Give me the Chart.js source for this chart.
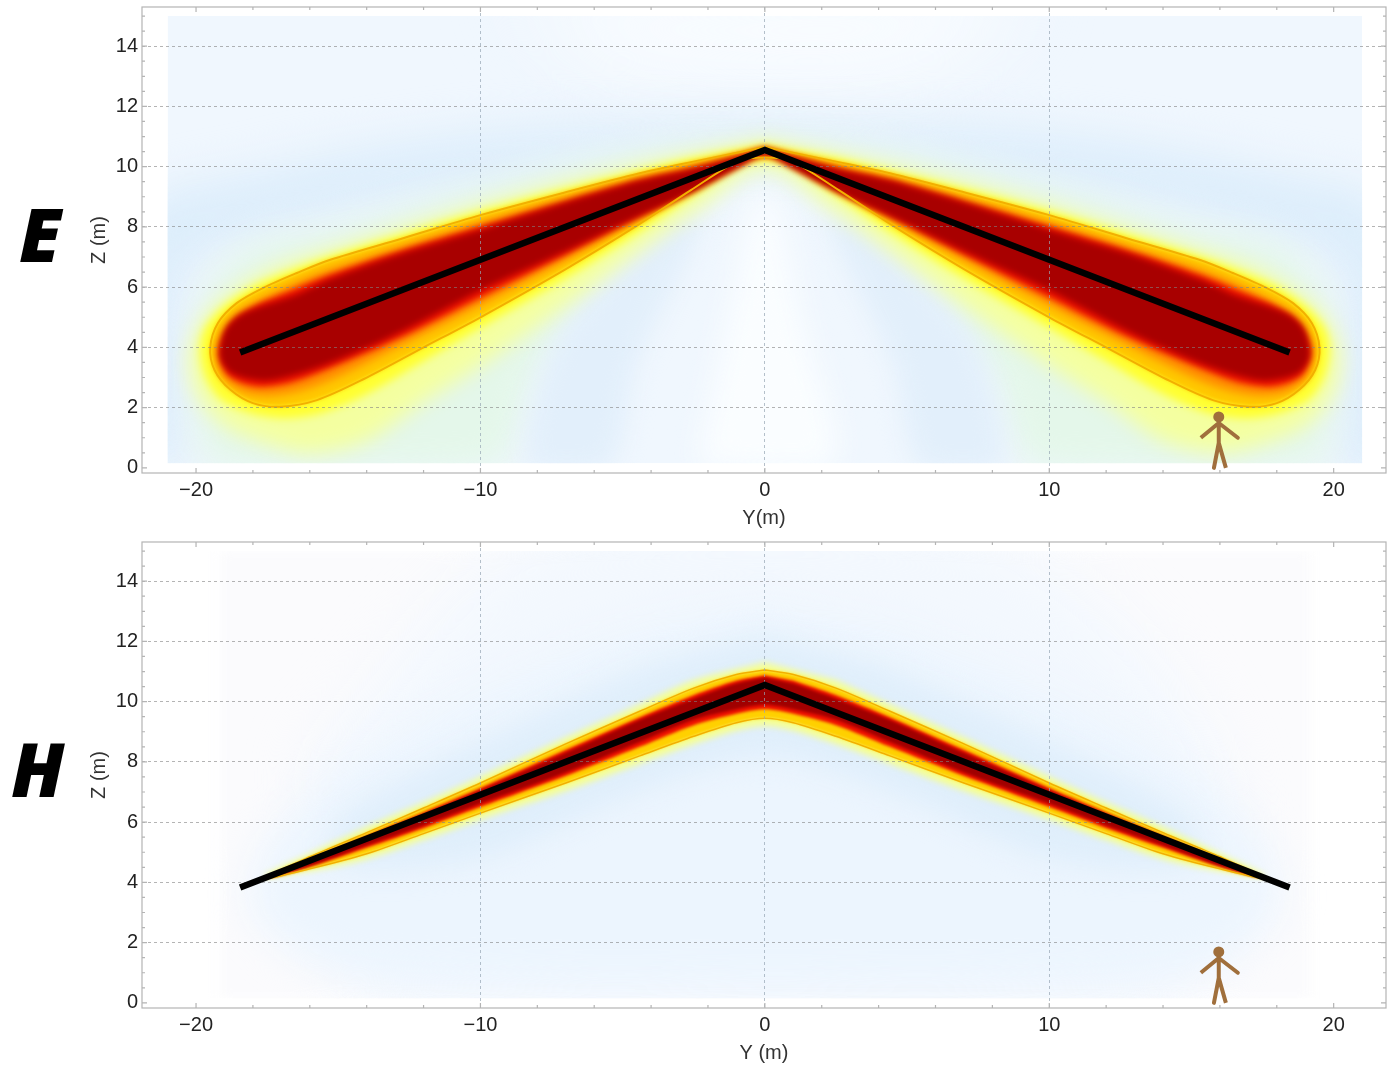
<!DOCTYPE html>
<html>
<head>
<meta charset="utf-8">
<script src="https://cdn.jsdelivr.net/npm/chart.js@4"></script>
<style>
  html, body { margin: 0; padding: 0; background: #fff; overflow: hidden; }
  canvas { position: absolute; left: 0; }
  #chartE { top: 0; }
  #chartH { top: 535px; }
  .tag { position: absolute; font: italic 800 75px "Open Sans", sans-serif; color: #000; line-height: 75px; }
</style>
</head>
<body>
<canvas id="chartE" width="1398" height="533"></canvas>
<canvas id="chartH" width="1398" height="533"></canvas>
<div class="tag" style="left:19px;top:196px">E</div>
<div class="tag" style="left:11px;top:731px">H</div>
<script>
// wire and the little man, same in both panels
const wire = [[-18.45,3.83],[0,10.55],[18.45,3.83]];
const man = [[15.33,1],[15.96,1.49],[16.63,1],[15.96,1.49],[15.96,.83],[15.79,0],[15.96,.83],[16.21,0]];
const manHead = [[15.96,1.69]];

// E panel, outlines
const eRect = [[-21,.15],[21,.15],[21,15],[-21,15]];
const eTopPale = [[-9,16],[9,16],[5,13],[-5,13]];
const eArc = [[-22,0],[-22,8.5],[-18,9.8],[-12,10.9],[-6,11.4],[0,11.5],[6,11.4],[12,10.9],[18,9.8],[22,8.5],[22,0],[20.3,0],[20.3,6.5],[16,8.2],[10,9.4],[4,10.5],[0,10.6],[-4,10.5],[-10,9.4],[-16,8.2],[-20.3,6.5],[-20.3,0]];
const eGreen = [[0,10.9],[-5,10.4],[-10,9.3],[-15,8],[-18,7.4],[-19.6,6],[-20,3.5],[-19.3,0],[-9.5,0],[-8,3],[-5.4,6.3],[-2.5,8.7],[0,10],[2.5,8.7],[5.4,6.3],[8,3],[9.5,0],[19.3,0],[20,3.5],[19.6,6],[18,7.4],[15,8],[10,9.3],[5,10.4]];
const eLobeL = [[-3,8.6],[-2.2,8.2],[-4.5,3.5],[-5.5,0],[-8.3,0],[-7.5,4],[-5,7]];
const eLobeR = [[3,8.6],[2.2,8.2],[4.5,3.5],[5.5,0],[8.3,0],[7.5,4],[5,7]];
const eCentre = [[-2.4,0],[2.4,0],[1.3,5],[.3,9],[-.3,9],[-1.3,5]];
const eGlowWide = [[0,10.85],[-4,10.1],[-7,9.45],[-10,8.7],[-15,7.3],[-17.5,6.5],[-19.5,5.2],[-20.2,3.9],[-20,2.5],[-19,1.4],[-17.5,.8],[-16,.5],[-14,.9],[-12,2.2],[-10,3.4],[-7,5.4],[-4.4,7.2],[-2.5,8.5],[0,10],[2.5,8.5],[4.4,7.2],[7,5.4],[10,3.4],[12,2.2],[14,.9],[16,.5],[17.5,.8],[19,1.4],[20,2.5],[20.2,3.9],[19.5,5.2],[17.5,6.5],[15,7.3],[10,8.7],[7,9.45],[4,10.1]];
const eGlow = [[0,10.72],[-2.6,10.27],[-7,9.27],[-10,8.52],[-15.3,7.02],[-16.6,6.58],[-18,6.02],[-19.1,5.3],[-19.7,4.6],[-19.85,3.9],[-19.65,3],[-19.1,2.25],[-18,1.8],[-16.8,1.65],[-15.5,1.85],[-14,2.45],[-12,3.55],[-10,4.65],[-7,6.3],[-4.4,7.85],[-2.6,9],[-.9,10.05],[0,10.2],[.9,10.05],[2.6,9],[4.4,7.85],[7,6.3],[10,4.65],[12,3.55],[14,2.45],[15.5,1.85],[16.8,1.65],[18,1.8],[19.1,2.25],[19.65,3],[19.85,3.9],[19.7,4.6],[19.1,5.3],[18,6.02],[16.6,6.58],[15.3,7.02],[10,8.52],[7,9.27],[2.6,10.27]];
const eContour = [[0,10.65],[-.9,10.48],[-2.6,10.15],[-4.4,9.78],[-7,9.15],[-10,8.39],[-12.8,7.6],[-15.3,6.9],[-16.45,6.47],[-17.65,5.97],[-18.57,5.47],[-19.23,4.81],[-19.5,4],[-19.35,3.25],[-18.8,2.6],[-18,2.15],[-17.05,2.03],[-15.75,2.25],[-14.1,2.95],[-12,4],[-10,5],[-7,6.6],[-4.4,8.1],[-2.6,9.22],[-.9,10.2],[0,10.3],[.9,10.2],[2.6,9.22],[4.4,8.1],[7,6.6],[10,5],[12,4],[14.1,2.95],[15.75,2.25],[17.05,2.03],[18,2.15],[18.8,2.6],[19.35,3.25],[19.5,4],[19.23,4.81],[18.57,5.47],[17.65,5.97],[16.45,6.47],[15.3,6.9],[12.8,7.6],[10,8.39],[7,9.15],[4.4,9.78],[2.6,10.15],[.9,10.48],[0,10.65]];
const eOrange = [[0,10.62],[-.9,10.4],[-2.6,10],[-4.4,9.62],[-7,8.97],[-10,8.16],[-12.8,7.35],[-15.3,6.6],[-16.5,6.15],[-17.8,5.55],[-18.6,5.1],[-19.1,4.5],[-19.3,3.8],[-19.05,3],[-18.3,2.5],[-17.3,2.4],[-16,2.65],[-14.5,3.25],[-12.4,4.25],[-10,5.4],[-7,6.9],[-4.4,8.27],[-2.6,9.2],[-.9,10.1],[0,10.35],[.9,10.1],[2.6,9.2],[4.4,8.27],[7,6.9],[10,5.4],[12.4,4.25],[14.5,3.25],[16,2.65],[17.3,2.4],[18.3,2.5],[19.05,3],[19.3,3.8],[19.1,4.5],[18.6,5.1],[17.8,5.55],[16.5,6.15],[15.3,6.6],[12.8,7.35],[10,8.16],[7,8.97],[4.4,9.62],[2.6,10],[.9,10.4]];
const eRed = [[0,10.6],[-.9,10.35],[-2.6,9.94],[-4.4,9.57],[-7,8.86],[-10,8.02],[-12.8,7.22],[-15.3,6.42],[-16.6,5.92],[-18,5.35],[-18.8,4.8],[-19.2,3.85],[-18.85,3.05],[-17.9,2.7],[-16.8,2.8],[-15.4,3.27],[-12.7,4.37],[-10,5.65],[-7,7.07],[-4.4,8.33],[-2.6,9.17],[-.9,10.05],[0,10.38],[.9,10.05],[2.6,9.17],[4.4,8.33],[7,7.07],[10,5.65],[12.7,4.37],[15.4,3.27],[16.8,2.8],[17.9,2.7],[18.85,3.05],[19.2,3.85],[18.8,4.8],[18,5.35],[16.6,5.92],[15.3,6.42],[12.8,7.22],[10,8.02],[7,8.86],[4.4,9.57],[2.6,9.94],[.9,10.35]];
const eDark = [[0,10.58],[-.9,10.32],[-2.6,9.9],[-4.4,9.52],[-7,8.8],[-10,7.9],[-12.8,7.1],[-15.3,6.25],[-16.45,5.75],[-18.35,5.12],[-18.95,4.6],[-19.15,3.7],[-18.75,3.15],[-17.65,2.9],[-16.7,3.05],[-15.3,3.48],[-12.9,4.48],[-10,5.9],[-7,7.2],[-4.4,8.38],[-2.6,9.15],[-.9,10],[0,10.4],[.9,10],[2.6,9.15],[4.4,8.38],[7,7.2],[10,5.9],[12.9,4.48],[15.3,3.48],[16.7,3.05],[17.65,2.9],[18.75,3.15],[19.15,3.7],[18.95,4.6],[18.35,5.12],[16.45,5.75],[15.3,6.25],[12.8,7.1],[10,7.9],[7,8.8],[4.4,9.52],[2.6,9.9],[.9,10.32]];

// H panel
const hRect = [[-19.2,.15],[19.2,.15],[19.2,15],[-19.2,15]];
const hPale = [[-14,0],[14,0],[16,8],[8,15.5],[-8,15.5],[-16,8]];
const hHazeOuter = [[0,13.2],[-5,12.2],[-10,10.2],[-15,7.5],[-17.5,5.3],[-18,3],[-15,1],[-8,.5],[0,.5],[8,.5],[15,1],[18,3],[17.5,5.3],[15,7.5],[10,10.2],[5,12.2]];
const hHazeInner = [[0,12.2],[-4,11.2],[-8,9.5],[-12,7.7],[-15,6],[-15,4.6],[-10,4.8],[-5,6.8],[0,8.2],[5,6.8],[10,4.8],[15,4.6],[15,6],[12,7.7],[8,9.5],[4,11.2]];
const hGlow = [[0,11.3],[-2.5,10.7],[-4.4,9.9],[-7,8.8],[-10,7.5],[-12,6.65],[-14,5.83],[-16,4.95],[-17.6,4.2],[-16,4.38],[-14,4.78],[-12,5.42],[-10,6.1],[-7,7.05],[-4.4,7.95],[-2.5,8.6],[-1,9.05],[0,9.2],[1,9.05],[2.5,8.6],[4.4,7.95],[7,7.05],[10,6.1],[12,5.42],[14,4.78],[16,4.38],[17.6,4.2],[16,4.95],[14,5.83],[12,6.65],[10,7.5],[7,8.8],[4.4,9.9],[2.5,10.7]];
const hContour = [[0,11.05],[-1,10.9],[-2.5,10.45],[-4.4,9.68],[-7,8.6],[-10,7.3],[-12,6.47],[-14,5.65],[-16,4.85],[-17.6,4.13],[-16,4.45],[-14,4.95],[-12,5.62],[-10,6.3],[-7,7.3],[-4.4,8.2],[-2.5,8.85],[-1,9.3],[0,9.45],[1,9.3],[2.5,8.85],[4.4,8.2],[7,7.3],[10,6.3],[12,5.62],[14,4.95],[16,4.45],[17.6,4.13],[16,4.85],[14,5.65],[12,6.47],[10,7.3],[7,8.6],[4.4,9.68],[2.5,10.45],[1,10.9],[0,11.05]];
const hRed = [[0,10.88],[-1,10.7],[-2.5,10.22],[-4.4,9.48],[-7,8.4],[-10,7.13],[-12,6.32],[-14,5.54],[-16,4.77],[-17.4,4.18],[-16,4.52],[-14,5.15],[-12,5.8],[-10,6.5],[-7,7.53],[-4.4,8.5],[-2.5,9.22],[-1,9.6],[0,9.75],[1,9.6],[2.5,9.22],[4.4,8.5],[7,7.53],[10,6.5],[12,5.8],[14,5.15],[16,4.52],[17.4,4.18],[16,4.77],[14,5.54],[12,6.32],[10,7.13],[7,8.4],[4.4,9.48],[2.5,10.22],[1,10.7]];
const hDark = [[0,10.8],[-1,10.6],[-2.5,10.1],[-4.4,9.39],[-7,8.3],[-10,7.05],[-12,6.25],[-14,5.48],[-16,4.72],[-17.3,4.2],[-16,4.55],[-14,5.23],[-12,5.9],[-10,6.62],[-7,7.65],[-4.4,8.66],[-2.5,9.4],[-1,9.75],[0,9.9],[1,9.75],[2.5,9.4],[4.4,8.66],[7,7.65],[10,6.62],[12,5.9],[14,5.23],[16,4.55],[17.3,4.2],[16,4.72],[14,5.48],[12,6.25],[10,7.05],[7,8.3],[4.4,9.39],[2.5,10.1],[1,10.6]];

const xTickLabels = [-20,-10,0,10,20];
const yTickLabels = [0,2,4,6,8,10,12,14];

const xy = pts => pts.map(([x,y]) => ({x,y}));

function heat(pts, color, blur, tension) {
  return {data: xy(pts), backgroundColor: color, borderWidth: 0, fill: 'shape', pointRadius: 0,
          tension: tension === undefined ? 0.3 : tension, blurPx: blur};
}
function outline(pts, color, width, blur) {
  return {data: xy(pts), borderColor: color, borderWidth: width, fill: false, pointRadius: 0, tension: 0.3, blurPx: blur};
}
function overlays() {
  return [
    {data: xy(manHead), pointRadius: 5.5, pointBackgroundColor: '#a06f3c', pointBorderWidth: 0, showLine: false, onTop: true},
    {data: xy(man), borderColor: '#a06f3c', borderWidth: 4, pointRadius: 0, fill: false, borderJoinStyle: 'round', onTop: true},
    {data: xy(wire), borderColor: '#000', borderWidth: 6.5, pointRadius: 0, fill: false, borderJoinStyle: 'miter', onTop: true}
  ];
}

const setBlur = (chart, i) => {
  const ds = chart.data.datasets[i];
  chart.ctx.filter = ds && ds.blurPx ? 'blur(' + ds.blurPx + 'px)' : 'none';
};

// heat layers are soft shapes cut to the sampled rectangle, wire and man go over the grid
const heatPlugin = {
  id: 'heatLayers',
  beforeDatasetsDraw(chart) {
    const {ctx, scales: {x, y}} = chart;
    ctx.save();
    ctx.beginPath();
    ctx.rect(x.getPixelForValue(-21), y.getPixelForValue(15), x.getPixelForValue(21) - x.getPixelForValue(-21), y.getPixelForValue(.15) - y.getPixelForValue(15));
    ctx.clip();
    setBlur(chart, chart.data.datasets.length - 1);
  },
  beforeDatasetDraw(chart, args) {
    if (chart.data.datasets[args.index].onTop) return false;
  },
  afterDatasetDraw(chart, args) {
    setBlur(chart, args.index - 1);
  },
  afterDatasetsDraw(chart) {
    chart.ctx.filter = 'none';
    chart.ctx.restore();
  },
  afterDraw(chart) {
    const {ctx, chartArea: a, scales: {x, y}} = chart;
    ctx.save();
    ctx.strokeStyle = '#b4b4b4';
    ctx.lineWidth = 1.2;
    ctx.strokeRect(a.left, a.top, a.right - a.left, a.bottom - a.top);
    ctx.beginPath();
    x.ticks.forEach(t => {
      const p = x.getPixelForValue(t.value), l = t.value % 10 === 0 ? 5 : 3;
      ctx.moveTo(p, a.bottom); ctx.lineTo(p, a.bottom - l);
      ctx.moveTo(p, a.top); ctx.lineTo(p, a.top + l);
    });
    y.ticks.forEach(t => {
      const p = y.getPixelForValue(t.value), l = t.value % 2 === 0 ? 5 : 3;
      ctx.moveTo(a.left, p); ctx.lineTo(a.left + l, p);
      ctx.moveTo(a.right, p); ctx.lineTo(a.right - l, p);
    });
    ctx.stroke();
    ctx.restore();
    chart.data.datasets.forEach((ds, i) => {
      if (ds.onTop) chart.getDatasetMeta(i).controller.draw();
    });
  }
};

function panel(id, xTitle, layers) {
  new Chart(document.getElementById(id), {
    type: 'line',
    data: {datasets: overlays().concat(layers.reverse())},
    plugins: [heatPlugin],
    options: {
      responsive: false,
      animation: false,
      events: [],
      layout: {padding: {left: 87, top: 7, right: 12, bottom: 0}},
      plugins: {legend: {display: false}, tooltip: {enabled: false}},
      scales: {
        x: {
          type: 'linear', min: -21.9, max: 21.84,
          afterFit(s) { s.height = 60; s.paddingLeft = 0; s.paddingRight = 0; },
          border: {display: false, dash: [3, 3]},
          grid: {z: 1, drawTicks: false, lineWidth: 1,
                 color: c => (c.tick && [-10,0,10].includes(c.tick.value)) ? 'rgba(150,165,180,.7)' : 'rgba(0,0,0,0)'},
          ticks: {stepSize: 2, autoSkip: false, includeBounds: false, maxRotation: 0, padding: 5, color: '#222',
                  font: {family: '"Liberation Sans"', size: 20},
                  callback: v => xTickLabels.includes(v) ? String(v).replace('-', '\u2212') : ''},
          title: {display: true, text: xTitle, color: '#333', font: {family: '"Liberation Sans"', size: 20}, padding: {top: 0, bottom: 3}}
        },
        y: {
          type: 'linear', min: -0.17, max: 15.3,
          afterFit(s) { s.width = 55; s.paddingTop = 0; s.paddingBottom = 0; },
          border: {display: false, dash: [3, 3]},
          grid: {z: 1, drawTicks: false, lineWidth: 1,
                 color: c => (c.tick && c.tick.value > 0 && c.tick.value % 2 === 0) ? 'rgba(130,130,130,.6)' : 'rgba(0,0,0,0)'},
          ticks: {stepSize: .5, autoSkip: false, includeBounds: false, padding: 4, color: '#222',
                  font: {family: '"Liberation Sans"', size: 20},
                  callback: v => yTickLabels.includes(v) ? String(v) : ''},
          title: {display: true, text: 'Z (m)', color: '#333', font: {family: '"Liberation Sans"', size: 20}, padding: {top: 0, bottom: 0}}
        }
      }
    }
  });
}

panel('chartE', 'Y(m)', [
  heat(eRect, '#f0f7fe', 0, 0),
  heat(eTopPale, '#f9fcff', 40),
  heat(eArc, '#dcedfb', 22),
  heat(eGreen, '#e4f7ea', 16),
  heat(eLobeL, '#e2effb', 12),
  heat(eLobeR, '#e2effb', 12),
  heat(eCentre, '#fafdff', 15),
  heat(eGlowWide, '#f4ffa0', 10),
  heat(eGlow, '#ffff30', 4),
  heat(eContour, '#ffc800', 2),
  heat(eOrange, '#ff8c00', 4),
  heat(eRed, '#f01000', 3),
  heat(eDark, '#a80000', 3),
  outline(eContour, '#f2b000', 2, .5)
]);

panel('chartH', 'Y (m)', [
  heat(hRect, '#fbfbfd', 6, 0),
  heat(hPale, '#f3f8fe', 30),
  heat(hHazeOuter, '#ecf5fe', 20),
  heat(hHazeInner, '#dfeefb', 14),
  heat(hGlow, '#f6ff90', 3),
  heat(hContour, '#ffd000', 1.5),
  heat(hRed, '#f01000', 1.5),
  heat(hDark, '#a00000', 1.5),
  outline(hContour, '#f2b000', 1.5, .5)
]);
</script>
</body>
</html>
